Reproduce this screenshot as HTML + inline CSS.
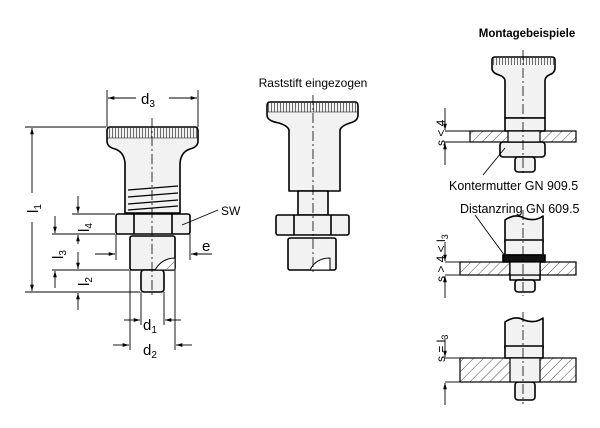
<!DOCTYPE html>
<html><head><style>
html,body{margin:0;padding:0;background:#fff;}
svg{display:block;font-family:"Liberation Sans",Arial,sans-serif;}
</style></head><body>
<svg width="600" height="428" viewBox="0 0 600 428" xmlns="http://www.w3.org/2000/svg">
<defs>
<pattern id="h" width="7" height="7" patternUnits="userSpaceOnUse" patternTransform="rotate(45)">
<line x1="0" y1="0" x2="0" y2="7" stroke="#222" stroke-width="0.8"/></pattern>
<pattern id="k" width="3" height="10" patternUnits="userSpaceOnUse">
<line x1="1.5" y1="0" x2="1.5" y2="10" stroke="#333" stroke-width="0.7"/></pattern>
<marker id="a" viewBox="0 0 10 10" refX="10" refY="5" markerWidth="7" markerHeight="7" orient="auto-start-reverse"><path d="M0,2 L10,5 L0,8z" fill="#000"/></marker>
</defs>
<g fill="#f2f2f2" stroke="#000" stroke-width="1.6" stroke-linejoin="round">
<path d="M110,127 H195 Q198,127 198,131 V141 Q198,147 190,149 Q181,152 180,163 V213 H125 V163 Q124,152 115,149 Q107,147 107,141 V131 Q107,127 110,127Z"/>
<rect x="108" y="128" width="89" height="10" fill="url(#k)" stroke="none"/>
<line x1="107" y1="138" x2="198" y2="138" stroke-width="0.6"/>
<rect x="116" y="214" width="74" height="20" rx="2"/>
<line x1="134" y1="214" x2="134" y2="234"/><line x1="172" y1="214" x2="172" y2="234"/>
<rect x="130" y="236" width="45" height="34" rx="2"/>
<rect x="141" y="270" width="23" height="22" rx="3"/>
<path d="M128,190 L178,186 M128,197 L178,193 M128,204 L178,200 M128,210 L178,206" fill="none" stroke-width="1.3"/>
<path d="M155,270 Q162,258 175,258 V270Z" fill="#fff" stroke-width="1"/>
<rect x="165" y="259" width="9" height="10" fill="url(#h)" stroke="none"/>
<path d="M270,102 H355 Q358,102 358,106 V115 Q358,121 350,123 Q341,126 340,130 V191 H289 V130 Q288,126 279,123 Q267,121 267,115 V106 Q267,102 270,102Z"/>
<rect x="268" y="103" width="89" height="9" fill="url(#k)" stroke="none"/>
<line x1="267" y1="112" x2="358" y2="112" stroke-width="0.6"/>
<rect x="298" y="191" width="30" height="24"/>
<rect x="276" y="215" width="73" height="20" rx="2"/>
<line x1="294" y1="215" x2="294" y2="235"/><line x1="331" y1="215" x2="331" y2="235"/>
<rect x="288" y="238" width="48" height="32" rx="2"/>
<path d="M310,270 Q316,258 330,258 V270Z" fill="#fff" stroke-width="1"/>
<path d="M495,57 H552 Q555,57 555,60 V68 Q555,73 549,75 Q545,77 545,81 V118 H505 V81 Q505,77 499,75 Q492,73 492,68 V60 Q492,57 495,57Z"/>
<rect x="493" y="58" width="61" height="7" fill="url(#k)" stroke="none"/>
<rect x="505" y="118" width="40" height="13"/>
<rect x="500" y="142" width="45" height="15" rx="3"/>
<rect x="515" y="157" width="20" height="15" rx="3"/>
<path d="M505,242 V220 Q515,213 524,218 Q535,222 543,216 V242Z"/>
<rect x="505" y="240" width="38" height="15"/>
<rect x="503" y="255" width="42" height="7" fill="#111"/>
<rect x="510" y="262" width="30" height="18"/>
<rect x="515" y="280" width="20" height="12" rx="3"/>
<path d="M505,348 V322 Q515,315 524,320 Q535,324 543,318 V348Z"/>
<rect x="505" y="346" width="38" height="12"/>
<rect x="515" y="382" width="20" height="18" rx="3"/>
</g>
<g stroke="#000" stroke-width="1.2">
<rect x="470" y="131" width="106" height="11" fill="url(#h)"/>
<rect x="508" y="131" width="32" height="11" fill="#f2f2f2"/>
<rect x="460" y="262" width="116" height="13" fill="url(#h)"/>
<rect x="510" y="262" width="30" height="13" fill="#f2f2f2"/>
<rect x="460" y="358" width="116" height="24" fill="url(#h)"/>
<rect x="510" y="358" width="30" height="24" fill="#f2f2f2"/>
</g>
<g stroke="#000" stroke-width="0.8" stroke-dasharray="10,3,2,3">
<line x1="152" y1="118" x2="152" y2="298"/>
<line x1="313" y1="95" x2="313" y2="275"/>
<line x1="523" y1="50" x2="523" y2="176"/>
<line x1="523" y1="210" x2="523" y2="296"/>
<line x1="523" y1="312" x2="523" y2="404"/>
</g>
<g stroke="#000" stroke-width="0.9" fill="none">
<line x1="107" y1="90" x2="107" y2="127"/><line x1="198" y1="90" x2="198" y2="127"/>
<line x1="108" y1="98" x2="136" y2="98" marker-start="url(#a)"/><line x1="169" y1="98" x2="197" y2="98" marker-end="url(#a)"/>
<line x1="25" y1="127" x2="106" y2="127"/><line x1="25" y1="292" x2="140" y2="292"/>
<line x1="32" y1="128" x2="32" y2="193" marker-start="url(#a)"/><line x1="32" y1="222" x2="32" y2="291" marker-end="url(#a)"/>
<line x1="72" y1="214" x2="115" y2="214"/><line x1="52" y1="234" x2="115" y2="234"/><line x1="52" y1="270" x2="129" y2="270"/>
<line x1="78" y1="196" x2="78" y2="213" marker-end="url(#a)"/><line x1="78" y1="244" x2="78" y2="235" marker-end="url(#a)"/>
<line x1="55" y1="216" x2="55" y2="233" marker-end="url(#a)"/><line x1="55" y1="288" x2="55" y2="271" marker-end="url(#a)"/>
<line x1="78" y1="252" x2="78" y2="269" marker-end="url(#a)"/><line x1="78" y1="310" x2="78" y2="293" marker-end="url(#a)"/>
<line x1="116" y1="234" x2="116" y2="260"/><line x1="190" y1="234" x2="190" y2="260"/>
<line x1="95" y1="254" x2="115" y2="254" marker-end="url(#a)"/><line x1="212" y1="254" x2="191" y2="254" marker-end="url(#a)"/>
<line x1="182" y1="225" x2="218" y2="210"/>
<line x1="141" y1="292" x2="141" y2="325"/><line x1="164" y1="292" x2="164" y2="325"/>
<line x1="130" y1="270" x2="130" y2="350"/><line x1="175" y1="270" x2="175" y2="350"/>
<line x1="124" y1="320" x2="140" y2="320" marker-end="url(#a)"/><line x1="181" y1="320" x2="165" y2="320" marker-end="url(#a)"/>
<line x1="113" y1="345" x2="129" y2="345" marker-end="url(#a)"/><line x1="192" y1="345" x2="176" y2="345" marker-end="url(#a)"/>
<line x1="445" y1="131" x2="470" y2="131"/><line x1="445" y1="142" x2="470" y2="142"/>
<line x1="445" y1="108" x2="445" y2="130" marker-end="url(#a)"/><line x1="445" y1="165" x2="445" y2="143" marker-end="url(#a)"/>
<line x1="445" y1="262" x2="460" y2="262"/><line x1="445" y1="275" x2="460" y2="275"/>
<line x1="445" y1="242" x2="445" y2="261" marker-end="url(#a)"/><line x1="445" y1="298" x2="445" y2="276" marker-end="url(#a)"/>
<line x1="445" y1="358" x2="460" y2="358"/><line x1="445" y1="382" x2="460" y2="382"/>
<line x1="445" y1="338" x2="445" y2="357" marker-end="url(#a)"/><line x1="445" y1="405" x2="445" y2="383" marker-end="url(#a)"/>
<line x1="483" y1="175" x2="505" y2="148"/>
<line x1="475" y1="215" x2="505" y2="256"/>
</g>
<g font-size="15" fill="#000">
<text x="141" y="104">d<tspan font-size="10" dy="3">3</tspan></text>
<text x="143" y="330">d<tspan font-size="10" dy="3">1</tspan></text>
<text x="143" y="355">d<tspan font-size="10" dy="3">2</tspan></text>
<text x="221" y="215" font-size="12">SW</text>
<text x="202" y="251">e</text>
<text transform="translate(38,213) rotate(-90)">l<tspan font-size="10" dy="3">1</tspan></text>
<text transform="translate(89,232) rotate(-90)">l<tspan font-size="10" dy="3">4</tspan></text>
<text transform="translate(63,259) rotate(-90)">l<tspan font-size="10" dy="3">3</tspan></text>
<text transform="translate(89,286) rotate(-90)">l<tspan font-size="10" dy="3">2</tspan></text>
<text transform="translate(445,146) rotate(-90)" font-size="12">s &lt; 4</text>
<text transform="translate(445,282) rotate(-90)" font-size="12">s &gt; 4 &lt; l<tspan font-size="9" dy="3">3</tspan></text>
<text transform="translate(445,362) rotate(-90)" font-size="12">s = l<tspan font-size="9" dy="3">3</tspan></text>
</g>
<g font-size="12" fill="#000">
<text x="313" y="87" text-anchor="middle">Raststift eingezogen</text>
<text x="527" y="37" text-anchor="middle" font-weight="bold" font-size="11.5">Montagebeispiele</text>
<text x="449" y="190" font-size="12.5">Kontermutter GN 909.5</text>
<text x="460" y="213" font-size="12.5">Distanzring GN 609.5</text>
</g>
</svg>
</body></html>
